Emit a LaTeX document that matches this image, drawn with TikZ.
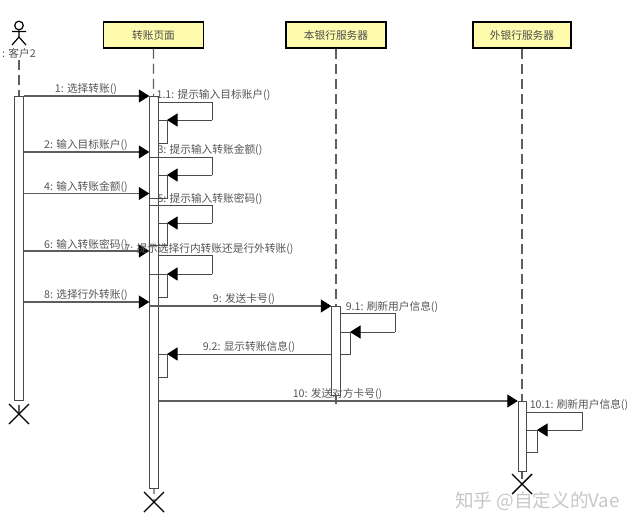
\documentclass[tikz,border=0pt]{standalone}
\usepackage{fontspec}
\setmainfont{Noto Sans CJK SC}
\usetikzlibrary{arrows.meta}
\definecolor{ink}{HTML}{555555}
\definecolor{wire}{HTML}{5E5E5E}
\definecolor{plain}{HTML}{4A4A4A}
\tikzset{
  header/.style={draw=black,line width=1.5pt,fill=yellow!32!white,minimum width=100pt,minimum height=26pt,inner sep=0pt,text=black!70,font=\fontsize{10.7}{12}\selectfont},
  lifeline/.style={draw=wire,line width=1.1pt,dash pattern=on 10pt off 5pt},
  bar/.style={draw=plain,line width=0.9pt,fill=white,minimum width=8.5pt,inner sep=0pt,anchor=north},
  msg/.style={draw=wire,line width=1.1pt,-{Triangle[length=10.5pt,width=13pt,color=black]}},
  selfcall/.style={draw=plain,line width=0.9pt,line join=miter},
  callback/.style={draw=plain,line width=0.9pt,-{Triangle[length=10.5pt,width=13pt,color=black]}},
  lbl/.style={text=ink,inner sep=0pt,font=\fontsize{10.7}{12}\selectfont},
  destroy/.style={draw=black,line width=1.4pt},
}
\begin{document}
\begin{tikzpicture}[x=1pt,y=-1pt]
\useasboundingbox (0,0) rectangle (637,527);

% participants
\node[header] (page) at (153.5,35) {转账页面};
\node[header] (bank) at (336,35) {本银行服务器};
\node[header,minimum width=98pt] (ext) at (522,35) {外银行服务器};

% actor
\coordinate (neck) at (19,30.5);
\coordinate (hip) at (19,37);
\draw[line width=1.2pt,draw=black] (19,25.5) circle (4.3);
\draw[line width=1.2pt,draw=black] (neck) -- (hip) (12,31.5) -- (26,31.5) (12,45) -- (hip) -- (26,45);
\node[lbl] (client) at (19,53) {: 客户2};

% life lines and their ends
\coordinate (clientEnd) at (19,414);
\coordinate (pageEnd) at (154,502);
\coordinate (extEnd) at (522,484);
\coordinate (bankEnd) at (336,408);
\draw[lifeline] (client.south) ++(0,2) -- (clientEnd);
\draw[lifeline] (page.south) -- (pageEnd);
\draw[lifeline] (bank.south) -- (bankEnd);
\draw[lifeline] (ext.south) -- (extEnd);
\draw[destroy] (9,404) -- (29,424) (29,404) -- (9,424);
\draw[destroy] (144,492) -- (164,512) (164,492) -- (144,512);
\draw[destroy] (512,474) -- (532,494) (532,474) -- (512,494);

% activation bars
\node[bar,minimum height=304pt] (cbar) at (19,96) {};
\node[bar,minimum height=392pt] (pbar) at (154,96) {};
\node[bar,minimum height=89pt] (bbar) at (336,306) {};
\node[bar,minimum height=70pt] (ebar) at (522.5,401) {};

% calls from the customer
\draw[msg] (cbar.east |- 0,96) -- (pbar.west |- 0,96);
\draw[msg] (cbar.east |- 0,152) -- (pbar.west |- 0,152);
\draw[msg] (cbar.east |- 0,193.5) -- (pbar.west |- 0,193.5);
\draw[msg] (cbar.east |- 0,251) -- (pbar.west |- 0,251);
\draw[msg] (cbar.east |- 0,302) -- (pbar.west |- 0,302);
\node[lbl] (m1) at (86,89) {1: 选择转账()};
\node[lbl] (m2) at (86,145.5) {2: 输入目标账户()};
\node[lbl] (m4) at (86,187.5) {4: 输入转账金额()};
\node[lbl] (m6) at (86,244.5) {6: 输入转账密码()};
\node[lbl] (m8) at (86,295.5) {8: 选择行外转账()};

% self calls on the page
\draw[selfcall] (pbar.east |- 0,102) -- (212,102) -- (212,120);
\draw[callback] (212,120) -- (167,120);
\draw[selfcall] (pbar.east |- 0,120) -- (167,120) -- (167,143) -- (pbar.east |- 0,143);
\draw[selfcall] (pbar.west |- 0,157) -- (212,157) -- (212,175);
\draw[callback] (212,175) -- (167,175);
\draw[selfcall] (pbar.east |- 0,175) -- (167,175) -- (167,198) -- (pbar.west |- 0,198);
\draw[selfcall] (pbar.west |- 0,205.5) -- (212,205.5) -- (212,223);
\draw[callback] (212,223) -- (167,223);
\draw[selfcall] (pbar.east |- 0,223) -- (167,223) -- (167,245) -- (pbar.west |- 0,245);
\draw[selfcall] (pbar.east |- 0,255.5) -- (212,255.5) -- (212,274);
\draw[callback] (212,274) -- (167,274);
\draw[selfcall] (pbar.west |- 0,274) -- (167,274) -- (167,297) -- (pbar.east |- 0,297);
\node[lbl] (m11) at (213.5,95.5) {1.1: 提示输入目标账户()};
\node[lbl] (m3) at (210,150.5) {3: 提示输入转账金额()};
\node[lbl] (m5) at (210,198.5) {5: 提示输入转账密码()};
\node[lbl] (m7) at (209,249) {7: 提示选择行内转账还是行外转账()};

% calls to the servers
\draw[msg] (pbar.west |- 0,306) -- (bbar.west |- 0,306);
\node[lbl] (m9) at (244,299) {9: 发送卡号()};
\draw[selfcall] (bbar.east |- 0,313) -- (395,313) -- (395,332);
\draw[callback] (395,332) -- (350,332);
\draw[selfcall] (bbar.east |- 0,332) -- (350,332) -- (350,354) -- (bbar.east |- 0,354);
\node[lbl] (m91) at (392,306.5) {9.1: 刷新用户信息()};
\draw[callback] (bbar.west |- 0,354) -- (167,354);
\draw[selfcall] (pbar.east |- 0,354) -- (167,354) -- (167,377) -- (pbar.east |- 0,377);
\node[lbl] (m92) at (249,347) {9.2: 显示转账信息()};
\draw[msg] (pbar.east |- 0,401) -- (ebar.west |- 0,401);
\node[lbl] (m10) at (337.5,394) {10: 发送对方卡号()};
\draw[selfcall] (ebar.east |- 0,412) -- (582,412) -- (582,430);
\draw[callback] (582,430) -- (537,430);
\draw[selfcall] (ebar.east |- 0,430) -- (537,430) -- (537,452) -- (ebar.east |- 0,452);
\node[lbl] (m101) at (579,404.5) {10.1: 刷新用户信息()};

% site mark in the corner
\node[text=black!22,inner sep=0pt,font=\fontsize{18.6}{20}\selectfont] (mark) at (537.5,501) {知乎 @自定义的Vae};
\end{tikzpicture}
\end{document}
